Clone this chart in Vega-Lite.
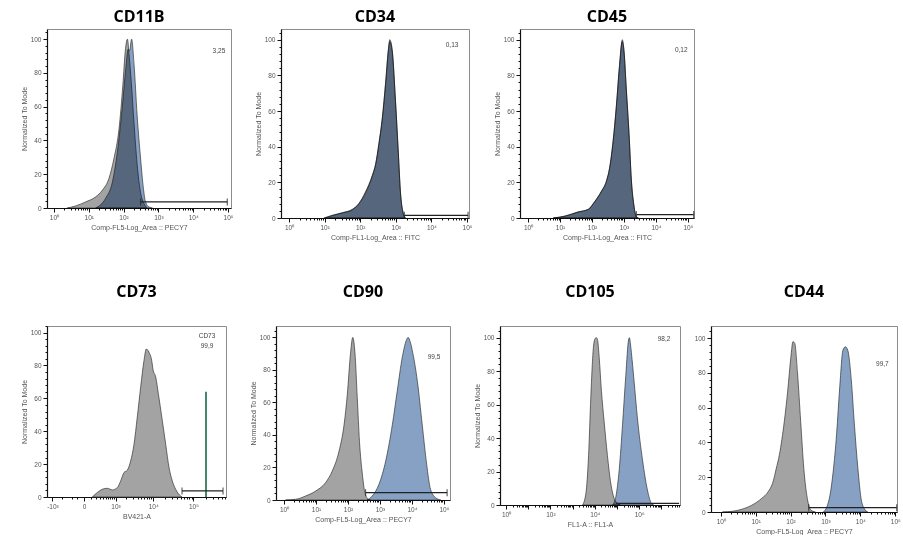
{
 "$schema": "https://vega.github.io/schema/vega-lite/v6.json",
 "background": "white",
 "padding": {"left": 19, "top": 8, "right": 0, "bottom": 0},
 "config": {
  "view": {"stroke": "#8c8c8c", "strokeWidth": 1},
  "title": {"font": "Open Sans", "fontSize": 16, "fontWeight": "bold", "color": "#000000", "offset": 4},
  "axis": {"grid": false, "domainColor": "#111111", "domainWidth": 1.2, "tickColor": "#111111", "tickWidth": 1, "labelFont": "Liberation Sans", "labelFontSize": 6.5, "labelColor": "#555555", "labelPadding": 2, "labelOverlap": false, "labelFlush": false, "titleFont": "Liberation Sans", "titleFontSize": 7, "titleFontWeight": "normal", "titleColor": "#555555", "titlePadding": 3}
 },
 "datasets": {
  "curves": [
   {"panel": "CD11B", "sample": "isotype control", "intensity": 2.4, "count": 0},
   {"panel": "CD11B", "sample": "isotype control", "intensity": 4.17, "count": 1.2},
   {"panel": "CD11B", "sample": "isotype control", "intensity": 8.13, "count": 3.6},
   {"panel": "CD11B", "sample": "isotype control", "intensity": 15.8, "count": 6.6},
   {"panel": "CD11B", "sample": "isotype control", "intensity": 24.5, "count": 10.5},
   {"panel": "CD11B", "sample": "isotype control", "intensity": 38.0, "count": 17.5},
   {"panel": "CD11B", "sample": "isotype control", "intensity": 52.5, "count": 29},
   {"panel": "CD11B", "sample": "isotype control", "intensity": 74.1, "count": 47},
   {"panel": "CD11B", "sample": "isotype control", "intensity": 95.5, "count": 73},
   {"panel": "CD11B", "sample": "isotype control", "intensity": 112, "count": 93},
   {"panel": "CD11B", "sample": "isotype control", "intensity": 129, "count": 100},
   {"panel": "CD11B", "sample": "isotype control", "intensity": 145, "count": 90},
   {"panel": "CD11B", "sample": "isotype control", "intensity": 166, "count": 75},
   {"panel": "CD11B", "sample": "isotype control", "intensity": 200, "count": 50},
   {"panel": "CD11B", "sample": "isotype control", "intensity": 245, "count": 26},
   {"panel": "CD11B", "sample": "isotype control", "intensity": 309, "count": 9},
   {"panel": "CD11B", "sample": "isotype control", "intensity": 389, "count": 2.5},
   {"panel": "CD11B", "sample": "isotype control", "intensity": 479, "count": 0},
   {"panel": "CD11B", "sample": "antibody", "intensity": 15.8, "count": 0},
   {"panel": "CD11B", "sample": "antibody", "intensity": 30.2, "count": 5.6},
   {"panel": "CD11B", "sample": "antibody", "intensity": 47.9, "count": 15.5},
   {"panel": "CD11B", "sample": "antibody", "intensity": 66.1, "count": 33},
   {"panel": "CD11B", "sample": "antibody", "intensity": 91.2, "count": 59},
   {"panel": "CD11B", "sample": "antibody", "intensity": 115, "count": 82},
   {"panel": "CD11B", "sample": "antibody", "intensity": 135, "count": 94},
   {"panel": "CD11B", "sample": "antibody", "intensity": 148, "count": 93},
   {"panel": "CD11B", "sample": "antibody", "intensity": 170, "count": 100},
   {"panel": "CD11B", "sample": "antibody", "intensity": 200, "count": 85},
   {"panel": "CD11B", "sample": "antibody", "intensity": 245, "count": 55},
   {"panel": "CD11B", "sample": "antibody", "intensity": 309, "count": 29},
   {"panel": "CD11B", "sample": "antibody", "intensity": 372, "count": 11.5},
   {"panel": "CD11B", "sample": "antibody", "intensity": 427, "count": 3.6},
   {"panel": "CD11B", "sample": "antibody", "intensity": 537, "count": 0.6},
   {"panel": "CD11B", "sample": "antibody", "intensity": 676, "count": 0},

   {"panel": "CD34", "sample": "isotype control", "intensity": 9.55, "count": 0},
   {"panel": "CD34", "sample": "isotype control", "intensity": 16.2, "count": 1.5},
   {"panel": "CD34", "sample": "isotype control", "intensity": 31.6, "count": 3},
   {"panel": "CD34", "sample": "isotype control", "intensity": 60.3, "count": 4.9},
   {"panel": "CD34", "sample": "isotype control", "intensity": 91.2, "count": 8.1},
   {"panel": "CD34", "sample": "isotype control", "intensity": 141, "count": 14.7},
   {"panel": "CD34", "sample": "isotype control", "intensity": 219, "count": 24},
   {"panel": "CD34", "sample": "isotype control", "intensity": 269, "count": 30},
   {"panel": "CD34", "sample": "isotype control", "intensity": 331, "count": 41},
   {"panel": "CD34", "sample": "isotype control", "intensity": 417, "count": 56},
   {"panel": "CD34", "sample": "isotype control", "intensity": 513, "count": 75},
   {"panel": "CD34", "sample": "isotype control", "intensity": 617, "count": 94},
   {"panel": "CD34", "sample": "isotype control", "intensity": 676, "count": 100},
   {"panel": "CD34", "sample": "isotype control", "intensity": 794, "count": 94},
   {"panel": "CD34", "sample": "isotype control", "intensity": 977, "count": 66},
   {"panel": "CD34", "sample": "isotype control", "intensity": 1175, "count": 37},
   {"panel": "CD34", "sample": "isotype control", "intensity": 1349, "count": 14.7},
   {"panel": "CD34", "sample": "isotype control", "intensity": 1585, "count": 3.4},
   {"panel": "CD34", "sample": "isotype control", "intensity": 1862, "count": 0},
   {"panel": "CD34", "sample": "antibody", "intensity": 10.5, "count": 0},
   {"panel": "CD34", "sample": "antibody", "intensity": 17, "count": 1.4},
   {"panel": "CD34", "sample": "antibody", "intensity": 33, "count": 2.9},
   {"panel": "CD34", "sample": "antibody", "intensity": 62, "count": 4.7},
   {"panel": "CD34", "sample": "antibody", "intensity": 93, "count": 8},
   {"panel": "CD34", "sample": "antibody", "intensity": 145, "count": 14.5},
   {"panel": "CD34", "sample": "antibody", "intensity": 224, "count": 24},
   {"panel": "CD34", "sample": "antibody", "intensity": 275, "count": 30.5},
   {"panel": "CD34", "sample": "antibody", "intensity": 338, "count": 42},
   {"panel": "CD34", "sample": "antibody", "intensity": 425, "count": 57},
   {"panel": "CD34", "sample": "antibody", "intensity": 520, "count": 76},
   {"panel": "CD34", "sample": "antibody", "intensity": 625, "count": 95},
   {"panel": "CD34", "sample": "antibody", "intensity": 680, "count": 99},
   {"panel": "CD34", "sample": "antibody", "intensity": 800, "count": 93},
   {"panel": "CD34", "sample": "antibody", "intensity": 985, "count": 65},
   {"panel": "CD34", "sample": "antibody", "intensity": 1180, "count": 36},
   {"panel": "CD34", "sample": "antibody", "intensity": 1355, "count": 14},
   {"panel": "CD34", "sample": "antibody", "intensity": 1590, "count": 3.2},
   {"panel": "CD34", "sample": "antibody", "intensity": 1870, "count": 0},

   {"panel": "CD45", "sample": "isotype control", "intensity": 6.03, "count": 0},
   {"panel": "CD45", "sample": "isotype control", "intensity": 14.1, "count": 1.1},
   {"panel": "CD45", "sample": "isotype control", "intensity": 36.3, "count": 3.4},
   {"panel": "CD45", "sample": "isotype control", "intensity": 75.9, "count": 4.9},
   {"panel": "CD45", "sample": "isotype control", "intensity": 120, "count": 9},
   {"panel": "CD45", "sample": "isotype control", "intensity": 195, "count": 14.8},
   {"panel": "CD45", "sample": "isotype control", "intensity": 282, "count": 20.5},
   {"panel": "CD45", "sample": "isotype control", "intensity": 355, "count": 28},
   {"panel": "CD45", "sample": "isotype control", "intensity": 457, "count": 43},
   {"panel": "CD45", "sample": "isotype control", "intensity": 575, "count": 62},
   {"panel": "CD45", "sample": "isotype control", "intensity": 724, "count": 85},
   {"panel": "CD45", "sample": "isotype control", "intensity": 891, "count": 100},
   {"panel": "CD45", "sample": "isotype control", "intensity": 1000, "count": 94},
   {"panel": "CD45", "sample": "isotype control", "intensity": 1175, "count": 73.5},
   {"panel": "CD45", "sample": "isotype control", "intensity": 1445, "count": 47},
   {"panel": "CD45", "sample": "isotype control", "intensity": 1698, "count": 22},
   {"panel": "CD45", "sample": "isotype control", "intensity": 2042, "count": 7.2},
   {"panel": "CD45", "sample": "isotype control", "intensity": 2455, "count": 0.6},
   {"panel": "CD45", "sample": "isotype control", "intensity": 2818, "count": 0},
   {"panel": "CD45", "sample": "antibody", "intensity": 6.5, "count": 0},
   {"panel": "CD45", "sample": "antibody", "intensity": 14.5, "count": 1},
   {"panel": "CD45", "sample": "antibody", "intensity": 37, "count": 3.3},
   {"panel": "CD45", "sample": "antibody", "intensity": 77, "count": 4.8},
   {"panel": "CD45", "sample": "antibody", "intensity": 122, "count": 9.2},
   {"panel": "CD45", "sample": "antibody", "intensity": 198, "count": 15},
   {"panel": "CD45", "sample": "antibody", "intensity": 286, "count": 21},
   {"panel": "CD45", "sample": "antibody", "intensity": 360, "count": 28.5},
   {"panel": "CD45", "sample": "antibody", "intensity": 462, "count": 43.5},
   {"panel": "CD45", "sample": "antibody", "intensity": 580, "count": 63},
   {"panel": "CD45", "sample": "antibody", "intensity": 730, "count": 86},
   {"panel": "CD45", "sample": "antibody", "intensity": 880, "count": 99},
   {"panel": "CD45", "sample": "antibody", "intensity": 1010, "count": 93},
   {"panel": "CD45", "sample": "antibody", "intensity": 1185, "count": 72},
   {"panel": "CD45", "sample": "antibody", "intensity": 1450, "count": 46},
   {"panel": "CD45", "sample": "antibody", "intensity": 1705, "count": 21},
   {"panel": "CD45", "sample": "antibody", "intensity": 2050, "count": 7},
   {"panel": "CD45", "sample": "antibody", "intensity": 2460, "count": 0.5},
   {"panel": "CD45", "sample": "antibody", "intensity": 2830, "count": 0},

   {"panel": "CD73", "sample": "CD73", "intensity": 120, "count": 0},
   {"panel": "CD73", "sample": "CD73", "intensity": 226, "count": 2.7},
   {"panel": "CD73", "sample": "CD73", "intensity": 366, "count": 4.7},
   {"panel": "CD73", "sample": "CD73", "intensity": 552, "count": 5.3},
   {"panel": "CD73", "sample": "CD73", "intensity": 799, "count": 4.3},
   {"panel": "CD73", "sample": "CD73", "intensity": 1127, "count": 5.7},
   {"panel": "CD73", "sample": "CD73", "intensity": 1409, "count": 9.8},
   {"panel": "CD73", "sample": "CD73", "intensity": 1742, "count": 14.9},
   {"panel": "CD73", "sample": "CD73", "intensity": 2142, "count": 16.3},
   {"panel": "CD73", "sample": "CD73", "intensity": 2640, "count": 22},
   {"panel": "CD73", "sample": "CD73", "intensity": 3226, "count": 32},
   {"panel": "CD73", "sample": "CD73", "intensity": 3932, "count": 48.6},
   {"panel": "CD73", "sample": "CD73", "intensity": 4814, "count": 67},
   {"panel": "CD73", "sample": "CD73", "intensity": 5848, "count": 83},
   {"panel": "CD73", "sample": "CD73", "intensity": 6694, "count": 90},
   {"panel": "CD73", "sample": "CD73", "intensity": 7832, "count": 88},
   {"panel": "CD73", "sample": "CD73", "intensity": 9170, "count": 83},
   {"panel": "CD73", "sample": "CD73", "intensity": 9880, "count": 77.6},
   {"panel": "CD73", "sample": "CD73", "intensity": 11560, "count": 73},
   {"panel": "CD73", "sample": "CD73", "intensity": 13440, "count": 63},
   {"panel": "CD73", "sample": "CD73", "intensity": 16900, "count": 46.5},
   {"panel": "CD73", "sample": "CD73", "intensity": 20560, "count": 32},
   {"panel": "CD73", "sample": "CD73", "intensity": 24840, "count": 18},
   {"panel": "CD73", "sample": "CD73", "intensity": 30000, "count": 9.8},
   {"panel": "CD73", "sample": "CD73", "intensity": 36400, "count": 4.7},
   {"panel": "CD73", "sample": "CD73", "intensity": 48400, "count": 0.6},
   {"panel": "CD73", "sample": "CD73", "intensity": 52000, "count": 0},

   {"panel": "CD90", "sample": "isotype control", "intensity": 1.12, "count": 0},
   {"panel": "CD90", "sample": "isotype control", "intensity": 2.29, "count": 0.4},
   {"panel": "CD90", "sample": "isotype control", "intensity": 4.79, "count": 2.5},
   {"panel": "CD90", "sample": "isotype control", "intensity": 9.77, "count": 5.5},
   {"panel": "CD90", "sample": "isotype control", "intensity": 20.0, "count": 10.7},
   {"panel": "CD90", "sample": "isotype control", "intensity": 32.4, "count": 17.9},
   {"panel": "CD90", "sample": "isotype control", "intensity": 52.5, "count": 30},
   {"panel": "CD90", "sample": "isotype control", "intensity": 75.9, "count": 46.6},
   {"panel": "CD90", "sample": "isotype control", "intensity": 95.5, "count": 65},
   {"panel": "CD90", "sample": "isotype control", "intensity": 120, "count": 90},
   {"panel": "CD90", "sample": "isotype control", "intensity": 141, "count": 100},
   {"panel": "CD90", "sample": "isotype control", "intensity": 166, "count": 90},
   {"panel": "CD90", "sample": "isotype control", "intensity": 195, "count": 63},
   {"panel": "CD90", "sample": "isotype control", "intensity": 229, "count": 36},
   {"panel": "CD90", "sample": "isotype control", "intensity": 282, "count": 15.8},
   {"panel": "CD90", "sample": "isotype control", "intensity": 339, "count": 4.5},
   {"panel": "CD90", "sample": "isotype control", "intensity": 437, "count": 0.4},
   {"panel": "CD90", "sample": "isotype control", "intensity": 501, "count": 0},
   {"panel": "CD90", "sample": "antibody", "intensity": 398, "count": 0},
   {"panel": "CD90", "sample": "antibody", "intensity": 575, "count": 2.5},
   {"panel": "CD90", "sample": "antibody", "intensity": 933, "count": 9.7},
   {"panel": "CD90", "sample": "antibody", "intensity": 1514, "count": 24},
   {"panel": "CD90", "sample": "antibody", "intensity": 2455, "count": 46.6},
   {"panel": "CD90", "sample": "antibody", "intensity": 3467, "count": 67},
   {"panel": "CD90", "sample": "antibody", "intensity": 5012, "count": 88},
   {"panel": "CD90", "sample": "antibody", "intensity": 6607, "count": 98},
   {"panel": "CD90", "sample": "antibody", "intensity": 7586, "count": 100},
   {"panel": "CD90", "sample": "antibody", "intensity": 8913, "count": 97},
   {"panel": "CD90", "sample": "antibody", "intensity": 10230, "count": 92},
   {"panel": "CD90", "sample": "antibody", "intensity": 14790, "count": 73},
   {"panel": "CD90", "sample": "antibody", "intensity": 20890, "count": 46.6},
   {"panel": "CD90", "sample": "antibody", "intensity": 28840, "count": 22},
   {"panel": "CD90", "sample": "antibody", "intensity": 38020, "count": 6.6},
   {"panel": "CD90", "sample": "antibody", "intensity": 54950, "count": 1.4},
   {"panel": "CD90", "sample": "antibody", "intensity": 79430, "count": 0},

   {"panel": "CD105", "sample": "isotype control", "intensity": 2818, "count": 0},
   {"panel": "CD105", "sample": "isotype control", "intensity": 3981, "count": 7},
   {"panel": "CD105", "sample": "isotype control", "intensity": 5248, "count": 29.5},
   {"panel": "CD105", "sample": "isotype control", "intensity": 6607, "count": 64},
   {"panel": "CD105", "sample": "isotype control", "intensity": 8710, "count": 94.5},
   {"panel": "CD105", "sample": "isotype control", "intensity": 10470, "count": 99.6},
   {"panel": "CD105", "sample": "isotype control", "intensity": 11750, "count": 100},
   {"panel": "CD105", "sample": "isotype control", "intensity": 13180, "count": 99},
   {"panel": "CD105", "sample": "isotype control", "intensity": 15850, "count": 88},
   {"panel": "CD105", "sample": "isotype control", "intensity": 19950, "count": 68},
   {"panel": "CD105", "sample": "isotype control", "intensity": 26300, "count": 50},
   {"panel": "CD105", "sample": "isotype control", "intensity": 37150, "count": 29.5},
   {"panel": "CD105", "sample": "isotype control", "intensity": 52480, "count": 13},
   {"panel": "CD105", "sample": "isotype control", "intensity": 74130, "count": 4},
   {"panel": "CD105", "sample": "isotype control", "intensity": 104700, "count": 1},
   {"panel": "CD105", "sample": "isotype control", "intensity": 141300, "count": 0},
   {"panel": "CD105", "sample": "antibody", "intensity": 63100, "count": 0},
   {"panel": "CD105", "sample": "antibody", "intensity": 89130, "count": 5},
   {"panel": "CD105", "sample": "antibody", "intensity": 125900, "count": 21},
   {"panel": "CD105", "sample": "antibody", "intensity": 177800, "count": 48},
   {"panel": "CD105", "sample": "antibody", "intensity": 251200, "count": 78},
   {"panel": "CD105", "sample": "antibody", "intensity": 331100, "count": 98.6},
   {"panel": "CD105", "sample": "antibody", "intensity": 363100, "count": 100},
   {"panel": "CD105", "sample": "antibody", "intensity": 398100, "count": 97},
   {"panel": "CD105", "sample": "antibody", "intensity": 446700, "count": 91},
   {"panel": "CD105", "sample": "antibody", "intensity": 588800, "count": 74},
   {"panel": "CD105", "sample": "antibody", "intensity": 831800, "count": 52},
   {"panel": "CD105", "sample": "antibody", "intensity": 1413000, "count": 27},
   {"panel": "CD105", "sample": "antibody", "intensity": 2344000, "count": 9},
   {"panel": "CD105", "sample": "antibody", "intensity": 3548000, "count": 1},
   {"panel": "CD105", "sample": "antibody", "intensity": 4467000, "count": 0},

   {"panel": "CD44", "sample": "isotype control", "intensity": 1.12, "count": 0},
   {"panel": "CD44", "sample": "isotype control", "intensity": 2.14, "count": 0.4},
   {"panel": "CD44", "sample": "isotype control", "intensity": 4.07, "count": 1.6},
   {"panel": "CD44", "sample": "isotype control", "intensity": 7.76, "count": 3.9},
   {"panel": "CD44", "sample": "isotype control", "intensity": 14.8, "count": 7.8},
   {"panel": "CD44", "sample": "isotype control", "intensity": 22.9, "count": 11.7},
   {"panel": "CD44", "sample": "isotype control", "intensity": 31.6, "count": 17.5},
   {"panel": "CD44", "sample": "isotype control", "intensity": 38.9, "count": 25},
   {"panel": "CD44", "sample": "isotype control", "intensity": 47.9, "count": 33},
   {"panel": "CD44", "sample": "isotype control", "intensity": 66.1, "count": 52},
   {"panel": "CD44", "sample": "isotype control", "intensity": 83.2, "count": 70},
   {"panel": "CD44", "sample": "isotype control", "intensity": 102, "count": 89},
   {"panel": "CD44", "sample": "isotype control", "intensity": 117, "count": 98},
   {"panel": "CD44", "sample": "isotype control", "intensity": 132, "count": 97},
   {"panel": "CD44", "sample": "isotype control", "intensity": 158, "count": 80},
   {"panel": "CD44", "sample": "isotype control", "intensity": 195, "count": 52},
   {"panel": "CD44", "sample": "isotype control", "intensity": 240, "count": 25},
   {"panel": "CD44", "sample": "isotype control", "intensity": 302, "count": 7.8},
   {"panel": "CD44", "sample": "isotype control", "intensity": 389, "count": 1},
   {"panel": "CD44", "sample": "isotype control", "intensity": 513, "count": 0},
   {"panel": "CD44", "sample": "antibody", "intensity": 871, "count": 0},
   {"panel": "CD44", "sample": "antibody", "intensity": 1096, "count": 2.9},
   {"panel": "CD44", "sample": "antibody", "intensity": 1349, "count": 9.7},
   {"panel": "CD44", "sample": "antibody", "intensity": 1660, "count": 23},
   {"panel": "CD44", "sample": "antibody", "intensity": 2089, "count": 45},
   {"panel": "CD44", "sample": "antibody", "intensity": 2570, "count": 72},
   {"panel": "CD44", "sample": "antibody", "intensity": 3162, "count": 93},
   {"panel": "CD44", "sample": "antibody", "intensity": 3715, "count": 95},
   {"panel": "CD44", "sample": "antibody", "intensity": 4365, "count": 93},
   {"panel": "CD44", "sample": "antibody", "intensity": 5495, "count": 76},
   {"panel": "CD44", "sample": "antibody", "intensity": 6761, "count": 50},
   {"panel": "CD44", "sample": "antibody", "intensity": 8511, "count": 25},
   {"panel": "CD44", "sample": "antibody", "intensity": 10470, "count": 7.8},
   {"panel": "CD44", "sample": "antibody", "intensity": 12880, "count": 2},
   {"panel": "CD44", "sample": "antibody", "intensity": 16220, "count": 0}
  ],
  "gates": [
   {"panel": "CD11B", "start": 309, "end": 95500, "level": 3.6},
   {"panel": "CD34", "start": 1738, "end": 107200, "level": 1.5},
   {"panel": "CD45", "start": 2455, "end": 151400, "level": 1.9},
   {"panel": "CD73", "start": 52200, "end": 538400, "level": 3.7},
   {"panel": "CD90", "start": 355, "end": 125900, "level": 4.5},
   {"panel": "CD105", "start": 89130, "end": 63000000, "level": 1},
   {"panel": "CD44", "start": 331, "end": 110000, "level": 2.5}
  ],
  "notes": [
   {"panel": "CD11B", "intensity": 54950, "count": 93, "text": "3,25"},
   {"panel": "CD34", "intensity": 38020, "count": 97, "text": "0,13"},
   {"panel": "CD45", "intensity": 61660, "count": 94, "text": "0,12"},
   {"panel": "CD73", "intensity": 216600, "count": 98, "text": "CD73"},
   {"panel": "CD73", "intensity": 216600, "count": 92, "text": "99,9"},
   {"panel": "CD90", "intensity": 48980, "count": 88, "text": "99,5"},
   {"panel": "CD105", "intensity": 13180000, "count": 99, "text": "98,2"},
   {"panel": "CD44", "intensity": 42660, "count": 85, "text": "99,7"}
  ],
  "spikes": [
   {"panel": "CD73", "intensity": 204600, "count": 64}
  ]
 },
 "spacing": 42,
 "vconcat": [
  {"spacing": 19, "hconcat": [
   {"width": 184, "height": 179, "title": {"text": "CD11B"},
    "layer": [
     {"data": {"name": "curves"}, "transform": [{"filter": "datum.panel === 'CD11B'"}],
      "mark": {"type": "area", "interpolate": "monotone", "blend": "multiply", "stroke": "#333333", "strokeWidth": 0.7},
      "encoding": {
       "x": {"field": "intensity", "type": "quantitative", "title": "Comp-FL5-Log_Area :: PECY7", "scale": {"type": "log", "domain": [0.631, 122000], "nice": false},
        "axis": {"tickCount": 200, "labelOverlap": false, "values": [1,2,3,4,5,6,7,8,9,10,20,30,40,50,60,70,80,90,100,200,300,400,500,600,700,800,900,1000,2000,3000,4000,5000,6000,7000,8000,9000,10000,20000,30000,40000,50000,60000,70000,80000,90000,100000],
         "labelExpr": "abs(log(datum.value)/LN10 - round(log(datum.value)/LN10)) < 0.001 ? '10' + ['⁰','¹','²','³','⁴','⁵','⁶','⁷'][round(log(datum.value)/LN10)] : ''",
         "labelFontSize": {"condition": {"test": "abs(log(datum.value)/LN10 - round(log(datum.value)/LN10)) < 0.001", "value": 6.5}, "value": 0},
         "tickSize": {"condition": {"test": "abs(log(datum.value)/LN10 - round(log(datum.value)/LN10)) < 0.001", "value": 4}, "value": 2}}},
       "y": {"field": "count", "type": "quantitative", "stack": null, "title": "Normalized To Mode", "scale": {"domain": [0, 106], "nice": false},
        "axis": {"tickCount": 200, "labelOverlap": false, "values": [0,4,8,12,16,20,24,28,32,36,40,44,48,52,56,60,64,68,72,76,80,84,88,92,96,100,104], "labelExpr": "datum.value % 20 == 0 ? format(datum.value, 'd') : ''", "labelFontSize": {"condition": {"test": "datum.value % 20 == 0", "value": 6.5}, "value": 0}, "tickSize": {"condition": {"test": "datum.value % 20 == 0", "value": 4}, "value": 2}}},
       "color": {"field": "sample", "type": "nominal", "scale": {"domain": ["isotype control", "antibody"], "range": ["#a3a3a3", "#86a1c4"]}, "legend": null}
      }},
     {"data": {"name": "gates"}, "transform": [{"filter": "datum.panel === 'CD11B'"}],
      "mark": {"type": "rule", "color": "#222222", "strokeWidth": 1.2},
      "encoding": {"x": {"field": "start", "type": "quantitative", "title": "Comp-FL5-Log_Area :: PECY7"}, "x2": {"field": "end"}, "y": {"field": "level", "type": "quantitative", "title": "Normalized To Mode"}}},
     {"data": {"name": "gates"}, "transform": [{"filter": "datum.panel === 'CD11B'"}, {"fold": ["start", "end"], "as": ["edge", "position"]}],
      "mark": {"type": "tick", "orient": "vertical", "size": 7, "thickness": 1.2, "color": "#222222"},
      "encoding": {"x": {"field": "position", "type": "quantitative", "title": "Comp-FL5-Log_Area :: PECY7"}, "y": {"field": "level", "type": "quantitative", "title": "Normalized To Mode"}}},
     {"data": {"name": "notes"}, "transform": [{"filter": "datum.panel === 'CD11B'"}],
      "mark": {"type": "text", "font": "Liberation Sans", "fontSize": 6.5, "color": "#444444"},
      "encoding": {"x": {"field": "intensity", "type": "quantitative", "title": "Comp-FL5-Log_Area :: PECY7"}, "y": {"field": "count", "type": "quantitative", "title": "Normalized To Mode"}, "text": {"field": "text"}}}
    ]},
   {"width": 188, "height": 189, "title": {"text": "CD34"},
    "layer": [
     {"data": {"name": "curves"}, "transform": [{"filter": "datum.panel === 'CD34'"}],
      "mark": {"type": "area", "interpolate": "monotone", "blend": "multiply", "stroke": "#333333", "strokeWidth": 0.7},
      "encoding": {
       "x": {"field": "intensity", "type": "quantitative", "title": "Comp-FL1-Log_Area :: FITC", "scale": {"type": "log", "domain": [0.596, 113800], "nice": false},
        "axis": {"tickCount": 200, "labelOverlap": false, "values": [1,2,3,4,5,6,7,8,9,10,20,30,40,50,60,70,80,90,100,200,300,400,500,600,700,800,900,1000,2000,3000,4000,5000,6000,7000,8000,9000,10000,20000,30000,40000,50000,60000,70000,80000,90000,100000],
         "labelExpr": "abs(log(datum.value)/LN10 - round(log(datum.value)/LN10)) < 0.001 ? '10' + ['⁰','¹','²','³','⁴','⁵','⁶','⁷'][round(log(datum.value)/LN10)] : ''",
         "labelFontSize": {"condition": {"test": "abs(log(datum.value)/LN10 - round(log(datum.value)/LN10)) < 0.001", "value": 6.5}, "value": 0},
         "tickSize": {"condition": {"test": "abs(log(datum.value)/LN10 - round(log(datum.value)/LN10)) < 0.001", "value": 4}, "value": 2}}},
       "y": {"field": "count", "type": "quantitative", "stack": null, "title": "Normalized To Mode", "scale": {"domain": [0, 106], "nice": false},
        "axis": {"tickCount": 200, "labelOverlap": false, "values": [0,4,8,12,16,20,24,28,32,36,40,44,48,52,56,60,64,68,72,76,80,84,88,92,96,100,104], "labelExpr": "datum.value % 20 == 0 ? format(datum.value, 'd') : ''", "labelFontSize": {"condition": {"test": "datum.value % 20 == 0", "value": 6.5}, "value": 0}, "tickSize": {"condition": {"test": "datum.value % 20 == 0", "value": 4}, "value": 2}}},
       "color": {"field": "sample", "type": "nominal", "scale": {"domain": ["isotype control", "antibody"], "range": ["#a3a3a3", "#86a1c4"]}, "legend": null}
      }},
     {"data": {"name": "gates"}, "transform": [{"filter": "datum.panel === 'CD34'"}],
      "mark": {"type": "rule", "color": "#222222", "strokeWidth": 1.2},
      "encoding": {"x": {"field": "start", "type": "quantitative", "title": "Comp-FL1-Log_Area :: FITC"}, "x2": {"field": "end"}, "y": {"field": "level", "type": "quantitative", "title": "Normalized To Mode"}}},
     {"data": {"name": "gates"}, "transform": [{"filter": "datum.panel === 'CD34'"}, {"fold": ["start", "end"], "as": ["edge", "position"]}],
      "mark": {"type": "tick", "orient": "vertical", "size": 7, "thickness": 1.2, "color": "#222222"},
      "encoding": {"x": {"field": "position", "type": "quantitative", "title": "Comp-FL1-Log_Area :: FITC"}, "y": {"field": "level", "type": "quantitative", "title": "Normalized To Mode"}}},
     {"data": {"name": "notes"}, "transform": [{"filter": "datum.panel === 'CD34'"}],
      "mark": {"type": "text", "font": "Liberation Sans", "fontSize": 6.5, "color": "#444444"},
      "encoding": {"x": {"field": "intensity", "type": "quantitative", "title": "Comp-FL1-Log_Area :: FITC"}, "y": {"field": "count", "type": "quantitative", "title": "Normalized To Mode"}, "text": {"field": "text"}}}
    ]},
   {"width": 174, "height": 189, "title": {"text": "CD45"},
    "layer": [
     {"data": {"name": "curves"}, "transform": [{"filter": "datum.panel === 'CD45'"}],
      "mark": {"type": "area", "interpolate": "monotone", "blend": "multiply", "stroke": "#333333", "strokeWidth": 0.7},
      "encoding": {
       "x": {"field": "intensity", "type": "quantitative", "title": "Comp-FL1-Log_Area :: FITC", "scale": {"type": "log", "domain": [0.562, 154900], "nice": false},
        "axis": {"tickCount": 200, "labelOverlap": false, "values": [1,2,3,4,5,6,7,8,9,10,20,30,40,50,60,70,80,90,100,200,300,400,500,600,700,800,900,1000,2000,3000,4000,5000,6000,7000,8000,9000,10000,20000,30000,40000,50000,60000,70000,80000,90000,100000],
         "labelExpr": "abs(log(datum.value)/LN10 - round(log(datum.value)/LN10)) < 0.001 ? '10' + ['⁰','¹','²','³','⁴','⁵','⁶','⁷'][round(log(datum.value)/LN10)] : ''",
         "labelFontSize": {"condition": {"test": "abs(log(datum.value)/LN10 - round(log(datum.value)/LN10)) < 0.001", "value": 6.5}, "value": 0},
         "tickSize": {"condition": {"test": "abs(log(datum.value)/LN10 - round(log(datum.value)/LN10)) < 0.001", "value": 4}, "value": 2}}},
       "y": {"field": "count", "type": "quantitative", "stack": null, "title": "Normalized To Mode", "scale": {"domain": [0, 106], "nice": false},
        "axis": {"tickCount": 200, "labelOverlap": false, "values": [0,4,8,12,16,20,24,28,32,36,40,44,48,52,56,60,64,68,72,76,80,84,88,92,96,100,104], "labelExpr": "datum.value % 20 == 0 ? format(datum.value, 'd') : ''", "labelFontSize": {"condition": {"test": "datum.value % 20 == 0", "value": 6.5}, "value": 0}, "tickSize": {"condition": {"test": "datum.value % 20 == 0", "value": 4}, "value": 2}}},
       "color": {"field": "sample", "type": "nominal", "scale": {"domain": ["isotype control", "antibody"], "range": ["#a3a3a3", "#86a1c4"]}, "legend": null}
      }},
     {"data": {"name": "gates"}, "transform": [{"filter": "datum.panel === 'CD45'"}],
      "mark": {"type": "rule", "color": "#222222", "strokeWidth": 1.2},
      "encoding": {"x": {"field": "start", "type": "quantitative", "title": "Comp-FL1-Log_Area :: FITC"}, "x2": {"field": "end"}, "y": {"field": "level", "type": "quantitative", "title": "Normalized To Mode"}}},
     {"data": {"name": "gates"}, "transform": [{"filter": "datum.panel === 'CD45'"}, {"fold": ["start", "end"], "as": ["edge", "position"]}],
      "mark": {"type": "tick", "orient": "vertical", "size": 7, "thickness": 1.2, "color": "#222222"},
      "encoding": {"x": {"field": "position", "type": "quantitative", "title": "Comp-FL1-Log_Area :: FITC"}, "y": {"field": "level", "type": "quantitative", "title": "Normalized To Mode"}}},
     {"data": {"name": "notes"}, "transform": [{"filter": "datum.panel === 'CD45'"}],
      "mark": {"type": "text", "font": "Liberation Sans", "fontSize": 6.5, "color": "#444444"},
      "encoding": {"x": {"field": "intensity", "type": "quantitative", "title": "Comp-FL1-Log_Area :: FITC"}, "y": {"field": "count", "type": "quantitative", "title": "Normalized To Mode"}, "text": {"field": "text"}}}
    ]}
  ]},
  {"spacing": 12, "hconcat": [
   {"spacing": 21, "hconcat": [
   {"width": 179, "height": 171, "title": {"text": "CD73", "offset": 26},
    "layer": [
     {"data": {"name": "curves"}, "transform": [{"filter": "datum.panel === 'CD73'"}],
      "mark": {"type": "area", "interpolate": "monotone", "color": "#a3a3a3", "stroke": "#333333", "strokeWidth": 0.7},
      "encoding": {
       "x": {"field": "intensity", "type": "quantitative", "title": "BV421-A", "scale": {"type": "symlog", "constant": 200, "domain": [-1436, 638000], "nice": false},
        "axis": {"tickCount": 200, "labelOverlap": false, "values": [-1000,-500,-200,-100,0,100,200,300,400,500,600,700,800,900,1000,2000,3000,4000,5000,6000,7000,8000,9000,10000,20000,30000,40000,50000,60000,70000,80000,90000,100000,200000,300000,400000,500000,600000],
         "labelExpr": "datum.value == -1000 ? '-10³' : datum.value == 0 ? '0' : datum.value == 1000 ? '10³' : datum.value == 10000 ? '10⁴' : datum.value == 100000 ? '10⁵' : ''",
         "labelFontSize": {"condition": {"test": "indexof([-1000, 0, 1000, 10000, 100000], datum.value) >= 0", "value": 6.5}, "value": 0},
         "tickSize": {"condition": {"test": "indexof([-1000, 0, 1000, 10000, 100000], datum.value) >= 0", "value": 4}, "value": 2}}},
       "y": {"field": "count", "type": "quantitative", "stack": null, "title": "Normalized To Mode", "scale": {"domain": [0, 104], "nice": false},
        "axis": {"tickCount": 200, "labelOverlap": false, "values": [0,4,8,12,16,20,24,28,32,36,40,44,48,52,56,60,64,68,72,76,80,84,88,92,96,100,104], "labelExpr": "datum.value % 20 == 0 ? format(datum.value, 'd') : ''", "labelFontSize": {"condition": {"test": "datum.value % 20 == 0", "value": 6.5}, "value": 0}, "tickSize": {"condition": {"test": "datum.value % 20 == 0", "value": 4}, "value": 2}}}
      }},
     {"data": {"name": "spikes"}, "transform": [{"filter": "datum.panel === 'CD73'"}],
      "mark": {"type": "rule", "color": "#2e7d5c", "strokeWidth": 1.8},
      "encoding": {"x": {"field": "intensity", "type": "quantitative", "title": "BV421-A"}, "y": {"field": "count", "type": "quantitative", "title": "Normalized To Mode"}, "y2": {"datum": 0}}},
     {"data": {"name": "gates"}, "transform": [{"filter": "datum.panel === 'CD73'"}],
      "mark": {"type": "rule", "color": "#222222", "strokeWidth": 1.2},
      "encoding": {"x": {"field": "start", "type": "quantitative", "title": "BV421-A"}, "x2": {"field": "end"}, "y": {"field": "level", "type": "quantitative", "title": "Normalized To Mode"}}},
     {"data": {"name": "gates"}, "transform": [{"filter": "datum.panel === 'CD73'"}, {"fold": ["start", "end"], "as": ["edge", "position"]}],
      "mark": {"type": "tick", "orient": "vertical", "size": 7, "thickness": 1.2, "color": "#222222"},
      "encoding": {"x": {"field": "position", "type": "quantitative", "title": "BV421-A"}, "y": {"field": "level", "type": "quantitative", "title": "Normalized To Mode"}}},
     {"data": {"name": "notes"}, "transform": [{"filter": "datum.panel === 'CD73'"}],
      "mark": {"type": "text", "font": "Liberation Sans", "fontSize": 6.5, "color": "#444444"},
      "encoding": {"x": {"field": "intensity", "type": "quantitative", "title": "BV421-A"}, "y": {"field": "count", "type": "quantitative", "title": "Normalized To Mode"}, "text": {"field": "text"}}}
    ]},
   {"width": 174, "height": 174, "title": {"text": "CD90", "offset": 26},
    "layer": [
     {"data": {"name": "curves"}, "transform": [{"filter": "datum.panel === 'CD90'"}],
      "mark": {"type": "area", "interpolate": "monotone", "blend": "multiply", "stroke": "#333333", "strokeWidth": 0.7},
      "encoding": {
       "x": {"field": "intensity", "type": "quantitative", "title": "Comp-FL5-Log_Area :: PECY7", "scale": {"type": "log", "domain": [0.562, 154900], "nice": false},
        "axis": {"tickCount": 200, "labelOverlap": false, "values": [1,2,3,4,5,6,7,8,9,10,20,30,40,50,60,70,80,90,100,200,300,400,500,600,700,800,900,1000,2000,3000,4000,5000,6000,7000,8000,9000,10000,20000,30000,40000,50000,60000,70000,80000,90000,100000],
         "labelExpr": "abs(log(datum.value)/LN10 - round(log(datum.value)/LN10)) < 0.001 ? '10' + ['⁰','¹','²','³','⁴','⁵','⁶','⁷'][round(log(datum.value)/LN10)] : ''",
         "labelFontSize": {"condition": {"test": "abs(log(datum.value)/LN10 - round(log(datum.value)/LN10)) < 0.001", "value": 6.5}, "value": 0},
         "tickSize": {"condition": {"test": "abs(log(datum.value)/LN10 - round(log(datum.value)/LN10)) < 0.001", "value": 4}, "value": 2}}},
       "y": {"field": "count", "type": "quantitative", "stack": null, "title": "Normalized To Mode", "scale": {"domain": [0, 107], "nice": false},
        "axis": {"tickCount": 200, "labelOverlap": false, "values": [0,4,8,12,16,20,24,28,32,36,40,44,48,52,56,60,64,68,72,76,80,84,88,92,96,100,104], "labelExpr": "datum.value % 20 == 0 ? format(datum.value, 'd') : ''", "labelFontSize": {"condition": {"test": "datum.value % 20 == 0", "value": 6.5}, "value": 0}, "tickSize": {"condition": {"test": "datum.value % 20 == 0", "value": 4}, "value": 2}}},
       "color": {"field": "sample", "type": "nominal", "scale": {"domain": ["isotype control", "antibody"], "range": ["#a3a3a3", "#86a1c4"]}, "legend": null}
      }},
     {"data": {"name": "gates"}, "transform": [{"filter": "datum.panel === 'CD90'"}],
      "mark": {"type": "rule", "color": "#222222", "strokeWidth": 1.2},
      "encoding": {"x": {"field": "start", "type": "quantitative", "title": "Comp-FL5-Log_Area :: PECY7"}, "x2": {"field": "end"}, "y": {"field": "level", "type": "quantitative", "title": "Normalized To Mode"}}},
     {"data": {"name": "gates"}, "transform": [{"filter": "datum.panel === 'CD90'"}, {"fold": ["start", "end"], "as": ["edge", "position"]}],
      "mark": {"type": "tick", "orient": "vertical", "size": 7, "thickness": 1.2, "color": "#222222"},
      "encoding": {"x": {"field": "position", "type": "quantitative", "title": "Comp-FL5-Log_Area :: PECY7"}, "y": {"field": "level", "type": "quantitative", "title": "Normalized To Mode"}}},
     {"data": {"name": "notes"}, "transform": [{"filter": "datum.panel === 'CD90'"}],
      "mark": {"type": "text", "font": "Liberation Sans", "fontSize": 6.5, "color": "#444444"},
      "encoding": {"x": {"field": "intensity", "type": "quantitative", "title": "Comp-FL5-Log_Area :: PECY7"}, "y": {"field": "count", "type": "quantitative", "title": "Normalized To Mode"}, "text": {"field": "text"}}}
    ]},
   {"width": 180, "height": 179, "title": {"text": "CD105", "offset": 26},
    "layer": [
     {"data": {"name": "curves"}, "transform": [{"filter": "datum.panel === 'CD105'"}],
      "mark": {"type": "area", "interpolate": "monotone", "blend": "multiply", "stroke": "#333333", "strokeWidth": 0.7},
      "encoding": {
       "x": {"field": "intensity", "type": "quantitative", "title": "FL1-A :: FL1-A", "scale": {"type": "log", "domain": [0.537, 69000000], "nice": false},
        "axis": {"tickCount": 200, "labelOverlap": false, "values": [1,2,3,4,5,6,7,8,9,10,20,30,40,50,60,70,80,90,100,200,300,400,500,600,700,800,900,1000,2000,3000,4000,5000,6000,7000,8000,9000,10000,20000,30000,40000,50000,60000,70000,80000,90000,100000,200000,300000,400000,500000,600000,700000,800000,900000,1000000,2000000,3000000,4000000,5000000,6000000,7000000,8000000,9000000,10000000,20000000,30000000,40000000,50000000,60000000],
         "labelExpr": "abs(log(datum.value)/LN10 - round(log(datum.value)/LN10)) < 0.001 && round(log(datum.value)/LN10) % 2 == 0 ? '10' + ['⁰','¹','²','³','⁴','⁵','⁶','⁷'][round(log(datum.value)/LN10)] : ''",
         "labelFontSize": {"condition": {"test": "abs(log(datum.value)/LN10 - round(log(datum.value)/LN10)) < 0.001 && round(log(datum.value)/LN10) % 2 == 0", "value": 6.5}, "value": 0},
         "tickSize": {"condition": {"test": "abs(log(datum.value)/LN10 - round(log(datum.value)/LN10)) < 0.001", "value": 4}, "value": 2}}},
       "y": {"field": "count", "type": "quantitative", "stack": null, "title": "Normalized To Mode", "scale": {"domain": [0, 107], "nice": false},
        "axis": {"tickCount": 200, "labelOverlap": false, "values": [0,4,8,12,16,20,24,28,32,36,40,44,48,52,56,60,64,68,72,76,80,84,88,92,96,100,104], "labelExpr": "datum.value % 20 == 0 ? format(datum.value, 'd') : ''", "labelFontSize": {"condition": {"test": "datum.value % 20 == 0", "value": 6.5}, "value": 0}, "tickSize": {"condition": {"test": "datum.value % 20 == 0", "value": 4}, "value": 2}}},
       "color": {"field": "sample", "type": "nominal", "scale": {"domain": ["isotype control", "antibody"], "range": ["#a3a3a3", "#86a1c4"]}, "legend": null}
      }},
     {"data": {"name": "gates"}, "transform": [{"filter": "datum.panel === 'CD105'"}],
      "mark": {"type": "rule", "color": "#222222", "strokeWidth": 1.2},
      "encoding": {"x": {"field": "start", "type": "quantitative", "title": "FL1-A :: FL1-A"}, "x2": {"field": "end"}, "y": {"field": "level", "type": "quantitative", "title": "Normalized To Mode"}}},
     {"data": {"name": "notes"}, "transform": [{"filter": "datum.panel === 'CD105'"}],
      "mark": {"type": "text", "font": "Liberation Sans", "fontSize": 6.5, "color": "#444444"},
      "encoding": {"x": {"field": "intensity", "type": "quantitative", "title": "FL1-A :: FL1-A"}, "y": {"field": "count", "type": "quantitative", "title": "Normalized To Mode"}, "text": {"field": "text"}}}
    ]}
   ]},
   {"width": 186, "height": 186, "title": {"text": "CD44", "offset": 26},
    "layer": [
     {"data": {"name": "curves"}, "transform": [{"filter": "datum.panel === 'CD44'"}],
      "mark": {"type": "area", "interpolate": "monotone", "blend": "multiply", "stroke": "#333333", "strokeWidth": 0.7},
      "encoding": {
       "x": {"field": "intensity", "type": "quantitative", "title": "Comp-FL5-Log_Area :: PECY7", "scale": {"type": "log", "domain": [0.525, 112200], "nice": false},
        "axis": {"tickCount": 200, "labelOverlap": false, "values": [1,2,3,4,5,6,7,8,9,10,20,30,40,50,60,70,80,90,100,200,300,400,500,600,700,800,900,1000,2000,3000,4000,5000,6000,7000,8000,9000,10000,20000,30000,40000,50000,60000,70000,80000,90000,100000],
         "labelExpr": "abs(log(datum.value)/LN10 - round(log(datum.value)/LN10)) < 0.001 ? '10' + ['⁰','¹','²','³','⁴','⁵','⁶','⁷'][round(log(datum.value)/LN10)] : ''",
         "labelFontSize": {"condition": {"test": "abs(log(datum.value)/LN10 - round(log(datum.value)/LN10)) < 0.001", "value": 6.5}, "value": 0},
         "tickSize": {"condition": {"test": "abs(log(datum.value)/LN10 - round(log(datum.value)/LN10)) < 0.001", "value": 4}, "value": 2}}},
       "y": {"field": "count", "type": "quantitative", "stack": null, "title": null, "scale": {"domain": [0, 107], "nice": false},
        "axis": {"tickCount": 200, "labelOverlap": false, "values": [0,4,8,12,16,20,24,28,32,36,40,44,48,52,56,60,64,68,72,76,80,84,88,92,96,100,104], "labelExpr": "datum.value % 20 == 0 ? format(datum.value, 'd') : ''", "labelFontSize": {"condition": {"test": "datum.value % 20 == 0", "value": 6.5}, "value": 0}, "tickSize": {"condition": {"test": "datum.value % 20 == 0", "value": 4}, "value": 2}}},
       "color": {"field": "sample", "type": "nominal", "scale": {"domain": ["isotype control", "antibody"], "range": ["#a3a3a3", "#86a1c4"]}, "legend": null}
      }},
     {"data": {"name": "gates"}, "transform": [{"filter": "datum.panel === 'CD44'"}],
      "mark": {"type": "rule", "color": "#222222", "strokeWidth": 1.2},
      "encoding": {"x": {"field": "start", "type": "quantitative", "title": "Comp-FL5-Log_Area :: PECY7"}, "x2": {"field": "end"}, "y": {"field": "level", "type": "quantitative", "title": null}}},
     {"data": {"name": "gates"}, "transform": [{"filter": "datum.panel === 'CD44'"}, {"fold": ["start", "end"], "as": ["edge", "position"]}],
      "mark": {"type": "tick", "orient": "vertical", "size": 7, "thickness": 1.2, "color": "#222222"},
      "encoding": {"x": {"field": "position", "type": "quantitative", "title": "Comp-FL5-Log_Area :: PECY7"}, "y": {"field": "level", "type": "quantitative", "title": null}}},
     {"data": {"name": "notes"}, "transform": [{"filter": "datum.panel === 'CD44'"}],
      "mark": {"type": "text", "font": "Liberation Sans", "fontSize": 6.5, "color": "#444444"},
      "encoding": {"x": {"field": "intensity", "type": "quantitative", "title": "Comp-FL5-Log_Area :: PECY7"}, "y": {"field": "count", "type": "quantitative", "title": null}, "text": {"field": "text"}}}
    ]}
  ]}
 ]
}
